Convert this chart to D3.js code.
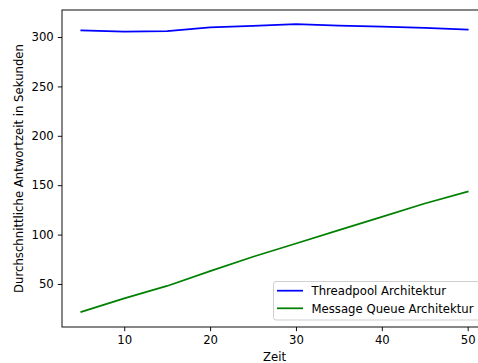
<!DOCTYPE html>
<html><head><meta charset="utf-8">
<script src="https://cdn.jsdelivr.net/npm/d3@7"></script>
<style>body{margin:0;background:#fff}svg{display:block;font-family:"DejaVu Sans",sans-serif}</style>
</head><body>
<script>
const xValues = [5, 10, 15, 20, 25, 30, 35, 40, 45, 50];
const threadpool = [306.8, 305.5, 306, 309.8, 311.2, 313, 311.5, 310.5, 309.3, 307.6];
const messageQueue = [21.7, 35.5, 48, 63, 77.6, 91, 104.5, 118, 131.5, 143.6];
const xTicks = [10, 20, 30, 40, 50];
const yTicks = [50, 100, 150, 200, 250, 300];
const seriesNames = ["Threadpool Architektur", "Message Queue Architektur"];
const seriesColors = ["#0000ff", "#008000"];
const xLabel = "Zeit";
const yLabel = "Durchschnittliche Antwortzeit in Sekunden";

const FS = 11.7;
const W = 478, H = 363;
const svg = d3.select("body").append("svg").attr("width", W).attr("height", H);
const mLeft = 62, mRight = 487, mTop = 10, mBottom = 327;

const x = d3.scaleLinear().domain([2.75, 52.25]).range([mLeft, mRight]);
const y = d3.scaleLinear().domain([6.45, 327.35]).range([mBottom, mTop]);

const series = [threadpool, messageQueue];
const line = d3.line().x((d, i) => x(xValues[i])).y(d => y(d));
series.forEach((s, k) => {
  svg.append("path").datum(s).attr("d", line).attr("fill", "none")
    .attr("stroke", seriesColors[k]).attr("stroke-width", 1.75).attr("stroke-linecap", "square");
});

// spines
svg.append("rect").attr("x", mLeft).attr("y", mTop).attr("width", mRight - mLeft).attr("height", mBottom - mTop)
  .attr("fill", "none").attr("stroke", "#000").attr("stroke-width", 0.95);

const xAxis = svg.append("g").attr("transform", `translate(0,${mBottom})`)
  .call(d3.axisBottom(x).tickValues(xTicks).tickSize(4.2).tickPadding(4).tickFormat(d3.format("d")));
const yAxis = svg.append("g").attr("transform", `translate(${mLeft},0)`)
  .call(d3.axisLeft(y).tickValues(yTicks).tickSize(4.2).tickPadding(4).tickFormat(d3.format("d")));
[xAxis, yAxis].forEach(a => {
  a.select(".domain").remove();
  a.selectAll("line").attr("stroke", "#000").attr("stroke-width", 0.95);
  a.selectAll("text").attr("fill", "#000").attr("font-size", FS).attr("font-family", "DejaVu Sans");
});

svg.append("text").attr("x", (mLeft + mRight) / 2).attr("y", 360.5).attr("text-anchor", "middle")
  .attr("font-size", FS).text(xLabel);
svg.append("text").attr("transform", `translate(22.5,${(mTop + mBottom) / 2}) rotate(-90)`)
  .attr("text-anchor", "middle").attr("font-size", FS).text(yLabel);

// legend
const lg = svg.append("g");
lg.append("rect").attr("x", 273.5).attr("y", 281.5).attr("width", 220).attr("height", 38.5).attr("rx", 2.5)
  .attr("fill", "#fff").attr("fill-opacity", 0.8).attr("stroke", "#ccc").attr("stroke-width", 0.95);
seriesNames.forEach((n, i) => {
  const yy = 290.7 + i * 17.6;
  lg.append("line").attr("x1", 277).attr("x2", 303).attr("y1", yy).attr("y2", yy)
    .attr("stroke", seriesColors[i]).attr("stroke-width", 1.75);
  lg.append("text").attr("x", 311.5).attr("y", yy + 4.2).attr("font-size", FS).attr("fill", "#000").text(n);
});
</script>
</body></html>
